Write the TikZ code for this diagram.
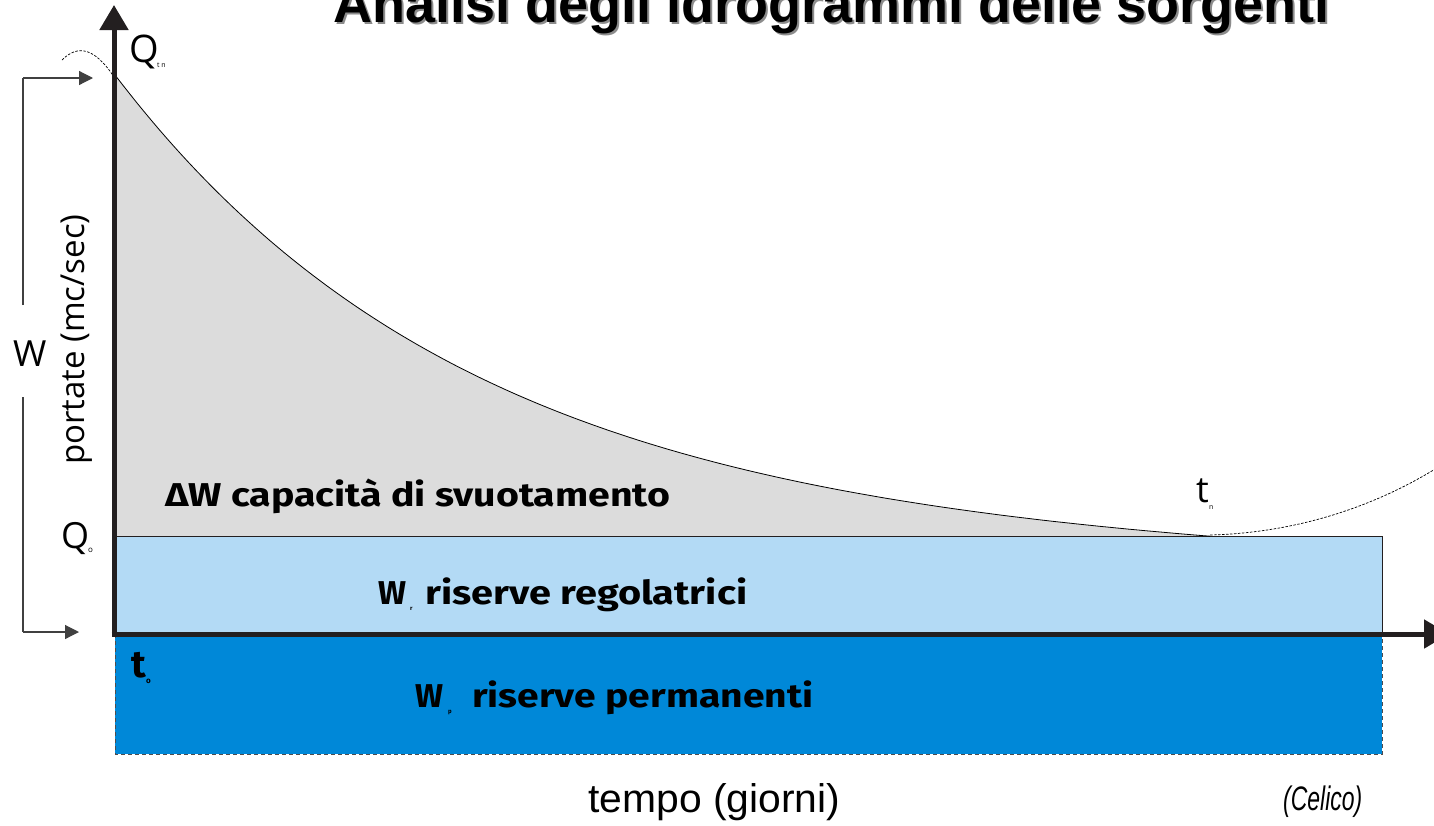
\documentclass[tikz,border=0pt]{standalone}
\usepackage{fontspec}
\usetikzlibrary{arrows.meta}
\newfontfamily\labf{Fira Sans}
\newfontfamily\osf{Open Sans}
\newfontfamily\libf{Liberation Sans}
\definecolor{axcol}{HTML}{231F20}
\definecolor{grayfill}{HTML}{DCDCDC}
\definecolor{lightblue}{HTML}{B3DAF5}
\definecolor{darkblue}{HTML}{0088D8}
\tikzset{
  txt/.style={inner sep=0pt, anchor=base west, text=black},
  axis/.style={line width=5pt, draw=axcol},
  bracket/.style={line width=1.2pt, draw=black!75},
  thin/.style={line width=0.8pt, draw=black},
}
\newcommand{\fs}[1]{\fontsize{#1}{#1}\selectfont}
\newcommand{\wfit}[2]{\resizebox{#1}{\height}{#2}}
\begin{document}
\begin{tikzpicture}[x=1pt,y=-1pt]
\clip (0,0) rectangle (1434,825);
\fill[white] (0,0) rectangle (1434,825);
% gray area under the recession curve
\fill[grayfill] (115,75) -- plot[domain=0:1095,samples=150] ({115+\x},{536-461*(exp(-0.0028*\x)-0.0466*\x/1095)}) -- (115,536) -- cycle;
% reserves
\draw[fill=lightblue, line width=0.9pt, draw=axcol] (115,536) rectangle (1382,634);
\draw[fill=darkblue, line width=0.9pt, draw=axcol!80, dash pattern=on 4pt off 3pt] (115,634) rectangle (1382,754);
% curve
\draw[thin] plot[domain=0:1095,samples=150] ({115+\x},{536-461*(exp(-0.0028*\x)-0.0466*\x/1095)});
\draw[line width=0.7pt, dash pattern=on 2.5pt off 1.5pt] (62,60) .. controls (78,44) and (95,48) .. (114,77);
\draw[line width=0.7pt, dash pattern=on 2.5pt off 1.5pt] (1210,535) .. controls (1290,533) and (1370,510) .. (1440,466);
% axes
\coordinate (O) at (114,634);
\coordinate (Ytop) at (114,5);
\coordinate (Xend) at (1449,634);
\draw[axis, -{Triangle[width=28pt,length=25pt]}] ([yshift=-2.5pt]O) -- (Ytop);
\draw[axis, -{Triangle[width=28pt,length=25pt]}] ([xshift=-2.5pt]O) -- (Xend);
% W bracket
\node[txt, font=\osf\fs{36}] (W) at (13,366) {W};
\coordinate (Btop) at (23,78);
\coordinate (Bbot) at (23,632);
\coordinate (Atop) at (93,78);
\coordinate (Abot) at (79,632);
\draw[bracket] (23,305) -- (Btop);
\draw[bracket] (23,397) -- (Bbot);
\draw[bracket, -{Triangle[width=14pt,length=14pt]}] (Btop) -- (Atop);
\draw[bracket, -{Triangle[width=14pt,length=14pt]}] (Bbot) -- (Abot);
% axis labels
\node[txt, rotate=90, font=\osf\fs{33}] (yl) at (84,465) {portate (mc/sec)};
\node[txt, font=\libf\fs{40}] (xl) at (588,812) {\wfit{252pt}{tempo (giorni)}};
\node[txt, font=\libf\itshape\fs{34}] (cel) at (1283,810) {\wfit{79pt}{(Celico)}};
% title
\node[txt, font=\libf\bfseries\fs{54}, text=black!45] at (335,24) {Analisi degli idrogrammi delle sorgenti};
\node[txt, font=\libf\bfseries\fs{54}] (title) at (333,22) {Analisi degli idrogrammi delle sorgenti};
% Q and t labels
\node[txt, font=\osf\fs{38}] (Qtn) at (129,62) {Q};
\node[txt, font=\osf\fs{7}] (Qtns) at (157,67) {t n};
\node[txt, font=\osf\fs{36}] (Q0) at (61,548) {Q};
\node[txt, font=\osf\fs{8}] (Q0s) at (88,552) {o};
\node[txt, font=\labf\bfseries\fs{38}] (t0) at (131,677) {t};
\node[txt, font=\labf\bfseries\fs{8}] (t0s) at (146,683) {o};
\node[txt, font=\osf\fs{36}] (tn) at (1196,502) {t};
\node[txt, font=\osf\fs{7}] (tns) at (1209,509) {n};
% region labels
\node[txt, font=\labf\bfseries\fs{33}] (dW) at (165,506) {\wfit{505pt}{ΔW capacità di svuotamento}};
\node[txt, font=\labf\bfseries\fs{33}] (Wr) at (378,604) {\wfit{28pt}{W}};
\node[txt, font=\labf\bfseries\fs{6}] (Wrs) at (410,610) {r};
\node[txt, font=\labf\bfseries\fs{33}] (Wrt) at (425,604) {\wfit{322pt}{riserve regolatrici}};
\node[txt, font=\labf\bfseries\fs{33}] (Wp) at (415,707) {\wfit{28pt}{W}};
\node[txt, font=\labf\bfseries\fs{6}] (Wps) at (448,713) {p};
\node[txt, font=\labf\bfseries\fs{33}] (Wpt) at (472,707) {\wfit{341pt}{riserve permanenti}};
\end{tikzpicture}
\end{document}
